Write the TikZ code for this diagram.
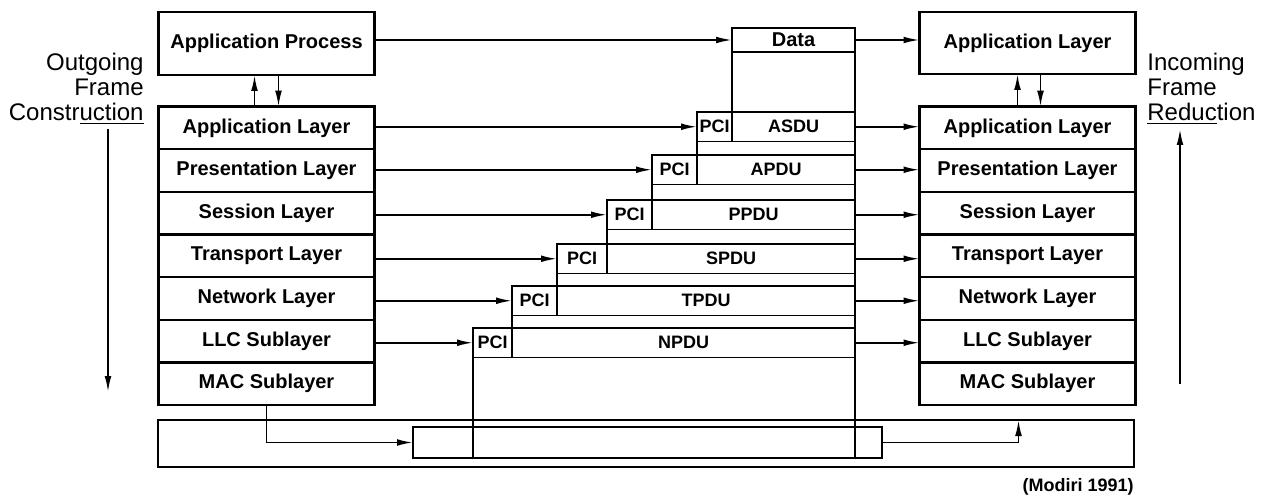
\documentclass[tikz,border=0pt]{standalone}
\usepackage{fontspec}
\setmainfont{Liberation Sans}
\usepackage{tikz}
\usetikzlibrary{positioning, arrows.meta}

\begin{document}
\begin{tikzpicture}[x=0.5pt,y=-0.5pt,>={Latex[length=8pt,width=3.4pt]},
    layer/.style={draw,line width=1.2pt,minimum width=108pt,minimum height=21.3pt,inner sep=0pt,outer sep=0pt,font=\bfseries\fontsize{10}{12}\selectfont},
    pdu/.style={draw,line width=0.8pt,minimum height=14.75pt,inner sep=0pt,outer sep=0pt,font=\bfseries\fontsize{9}{11}\selectfont},
    flow/.style={->,line width=0.9pt},
    side/.style={font=\fontsize{12}{12.5}\selectfont,inner sep=0pt}]
       \useasboundingbox (0,0) rectangle (1262,497);

       \node[layer,minimum height=31.5pt] (lproc) at (266.5,43.5) {Application Process};
       \node[layer] (lapl) at (266.5,128) {Application Layer};
       \node[layer,below=0pt of lapl] (lpres) {Presentation Layer};
       \node[layer,below=0pt of lpres] (lsess) {Session Layer};
       \node[layer,below=0pt of lsess] (ltrans) {Transport Layer};
       \node[layer,below=0pt of ltrans] (lnet) {Network Layer};
       \node[layer,below=0pt of lnet] (lllc) {LLC Sublayer};
       \node[layer,below=0pt of lllc] (lmac) {MAC Sublayer};

       \node[layer,minimum height=31pt] (rproc) at (1027.5,43) {Application Layer};
       \node[layer] (rapl) at (1027.5,128) {Application Layer};
       \node[layer,below=0pt of rapl] (rpres) {Presentation Layer};
       \node[layer,below=0pt of rpres] (rsess) {Session Layer};
       \node[layer,below=0pt of rsess] (rtrans) {Transport Layer};
       \node[layer,below=0pt of rtrans] (rnet) {Network Layer};
       \node[layer,below=0pt of rnet] (rllc) {LLC Sublayer};
       \node[layer,below=0pt of rllc] (rmac) {MAC Sublayer};

       \node[pdu,minimum width=61.5pt,minimum height=12pt,font=\bfseries\fontsize{10}{12}\selectfont] (data) at (793.5,40) {Data};
       \node[pdu,minimum width=17.5pt] (pci1) at (714.5,126.75) {PCI};
       \node[pdu,minimum width=61.5pt,right=0pt of pci1] (asdu) {ASDU};
       \node[pdu,minimum width=22.5pt] (pci2) at (674.5,169.75) {PCI};
       \node[pdu,minimum width=79pt,right=0pt of pci2] (apdu) {APDU};
       \node[pdu,minimum width=22.5pt] (pci3) at (629.5,214.75) {PCI};
       \node[pdu,minimum width=101.5pt,right=0pt of pci3] (ppdu) {PPDU};
       \node[pdu,minimum width=25pt] (pci4) at (582,258.75) {PCI};
       \node[pdu,minimum width=124pt,right=0pt of pci4] (spdu) {SPDU};
       \node[pdu,minimum width=22.5pt] (pci5) at (534.5,300.75) {PCI};
       \node[pdu,minimum width=149pt,right=0pt of pci5] (tpdu) {TPDU};
       \node[pdu,minimum width=19.5pt] (pci6) at (492.5,342.75) {PCI};
       \node[pdu,minimum width=171.5pt,right=0pt of pci6] (npdu) {NPDU};

       \node[draw,line width=1.2pt,minimum width=488pt,minimum height=23.5pt,inner sep=0pt,outer sep=0pt] (medium) at (646,443.5) {};
       \node[draw,line width=0.8pt,minimum width=234.5pt,minimum height=15.5pt,inner sep=0pt,outer sep=0pt] (frame) at (647.5,442.5) {};

       \draw[line width=0.8pt] (data.south west) rectangle (asdu.north east);
       \draw[line width=0.8pt] (pci1.south west) rectangle (asdu.south east |- pci2.north);
       \draw[line width=0.8pt] (pci2.south west) rectangle (apdu.south east |- pci3.north);
       \draw[line width=0.8pt] (pci3.south west) rectangle (ppdu.south east |- pci4.north);
       \draw[line width=0.8pt] (pci4.south west) rectangle (spdu.south east |- pci5.north);
       \draw[line width=0.8pt] (pci5.south west) rectangle (tpdu.south east |- pci6.north);
       \draw[line width=0.8pt] (pci6.south west) rectangle (npdu.south east |- frame.south);

       \draw[flow] ([xshift=-6pt]lapl.north) -- ([xshift=-6pt]lproc.south);
       \draw[flow] ([xshift=6pt]lproc.south) -- ([xshift=6pt]lapl.north);
       \draw[flow] ([xshift=-5pt]rapl.north) -- ([xshift=-5pt]rproc.south);
       \draw[flow] ([xshift=6.5pt]rproc.south) -- ([xshift=6.5pt]rapl.north);

       \draw[flow] (lproc.east |- data.west) -- (data.west);
       \draw[flow] (lapl.east |- pci1.west) -- (pci1.west);
       \draw[flow] (lpres.east |- pci2.west) -- (pci2.west);
       \draw[flow] (lsess.east |- pci3.west) -- (pci3.west);
       \draw[flow] (ltrans.east |- pci4.west) -- (pci4.west);
       \draw[flow] (lnet.east |- pci5.west) -- (pci5.west);
       \draw[flow] (lllc.east |- pci6.west) -- (pci6.west);

       \draw[flow] (data.east) -- (data.east -| rproc.west);
       \draw[flow] (asdu.east) -- (asdu.east -| rapl.west);
       \draw[flow] (apdu.east) -- (apdu.east -| rpres.west);
       \draw[flow] (ppdu.east) -- (ppdu.east -| rsess.west);
       \draw[flow] (spdu.east) -- (spdu.east -| rtrans.west);
       \draw[flow] (tpdu.east) -- (tpdu.east -| rnet.west);
       \draw[flow] (npdu.east) -- (npdu.east -| rllc.west);

       \draw[flow] (lmac.south) |- (frame.west);
       \draw[flow] (frame.east) -| ([xshift=-4.5pt]rmac.south |- medium.north);

       \node[side,align=right,anchor=east] (outlbl) at (144,89) {Outgoing\\Frame\\Constr\underline{uction}};
       \node[side,align=left,anchor=west] (inlbl) at (1147,89) {Incoming\\Frame\\\underline{Reduc}tion};
       \coordinate (outtop) at (108,129);
       \coordinate (outend) at (108,392);
       \coordinate (instart) at (1180,384);
       \coordinate (inend) at (1180,129);
       \draw[flow] (outtop) -- (outend);
       \draw[flow] (instart) -- (inend);

       \node[font=\bfseries\fontsize{9}{11}\selectfont,anchor=east,inner sep=0pt] (src) at (1134,487) {(Modiri 1991)};
    \end{tikzpicture}
\end{document}
